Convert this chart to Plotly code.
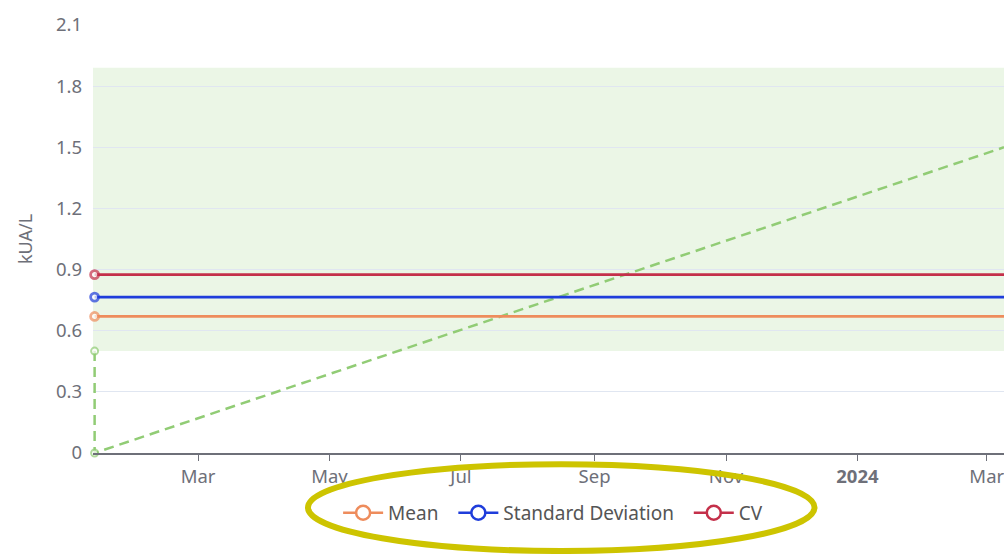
import plotly.graph_objects as go

# Date span of the chart
start_date = "2023-01-12"
end_date = "2024-03-09"
view_start = "2023-01-11 06:00"

# Summary statistics (kUA/L)
series_names = ["Mean", "Standard Deviation", "CV"]
series_values = [0.67, 0.765, 0.875]
series_colors = ["#ee8c5c", "#1f3ddb", "#c4304a"]

# Reference band and trend guide
band_low = 0.5
band_high = 1.89
trend_values = [0.5, 0.0, 1.5]
trend_dates = [start_date, start_date, end_date]

# Axis ticks
x_tick_dates = ["2023-03-01", "2023-05-01", "2023-07-01", "2023-09-01",
                "2023-11-01", "2024-01-01", "2024-03-01"]
x_tick_text = ["Mar", "May", "Jul", "Sep", "Nov", "<b>2024</b>", "Mar"]
y_ticks = [0, 0.3, 0.6, 0.9, 1.2, 1.5, 1.8, 2.1]

FONT = "Noto Sans, Open Sans, sans-serif"
TICK_COLOR = "#6e7079"
GREEN = "#91cc75"

fig = go.Figure()

# Trend guide: vertical drop then rising dashed line
fig.add_trace(go.Scatter(
    x=trend_dates, y=trend_values, mode="lines+markers",
    line=dict(color=GREEN, width=2.5, dash="10px,6px"),
    marker=dict(size=[7, 7, 0], color="white", line=dict(color=GREEN, width=2)),
    showlegend=False, cliponaxis=False, hoverinfo="skip",
))

# Horizontal statistic lines with a hollow marker at the start
for name, val, col in zip(series_names, series_values, series_colors):
    fig.add_trace(go.Scatter(
        x=[start_date, end_date], y=[val, val], mode="lines+markers",
        line=dict(color=col, width=2.8),
        marker=dict(size=[8, 0], color="white", line=dict(color=col, width=2.8)),
        showlegend=False, cliponaxis=False, name=name,
    ))
    # Legend entry with a larger hollow circle
    fig.add_trace(go.Scatter(
        x=[None], y=[None], mode="lines+markers", name=name + "\u00a0\u00a0",
        line=dict(color=col, width=2.5),
        marker=dict(size=14, color="white", line=dict(color=col, width=2.5)),
    ))

# Shaded reference band
fig.add_shape(
    type="rect", xref="paper", x0=0, x1=1, yref="y", y0=band_low, y1=band_high,
    fillcolor="rgba(145,204,117,0.18)", line=dict(width=0), layer="below",
)

# Highlight ring around the legend
fig.add_shape(
    type="circle", xref="paper", yref="paper",
    x0=0.236, x1=0.792, y0=-0.229, y1=-0.026,
    line=dict(color="#cdc400", width=6), fillcolor="rgba(0,0,0,0)", layer="above",
)

fig.update_layout(
    width=1004, height=554,
    margin=dict(l=93, r=0, t=25, b=101),
    paper_bgcolor="white", plot_bgcolor="white",
    font=dict(family=FONT, size=18, color=TICK_COLOR),
    legend=dict(
        orientation="h", x=0.51, xanchor="center", y=-0.14, yanchor="middle",
        font=dict(size=19, color="#555555"), itemwidth=40,
        bgcolor="rgba(0,0,0,0)",
    ),
    xaxis=dict(
        type="date", range=[view_start, end_date],
        tickvals=x_tick_dates, ticktext=x_tick_text,
        showgrid=False, showline=True, linecolor="#6e7079", linewidth=1.5,
        ticks="outside", ticklen=6, tickcolor="#6e7079",
        ticklabeloverflow="allow",
        tickfont=dict(size=18.5, color=TICK_COLOR), zeroline=False,
    ),
    yaxis=dict(
        range=[0, 2.1], tickvals=y_ticks,
        showgrid=True, gridcolor="#e0e6f1", gridwidth=1,
        showline=False, zeroline=False, ticks="",
        ticklabelstandoff=10,
        tickfont=dict(size=18.5, color=TICK_COLOR),
        title=dict(text="kUA/L", font=dict(size=18, color=TICK_COLOR), standoff=18),
    ),
)

fig.write_html("out.html")
